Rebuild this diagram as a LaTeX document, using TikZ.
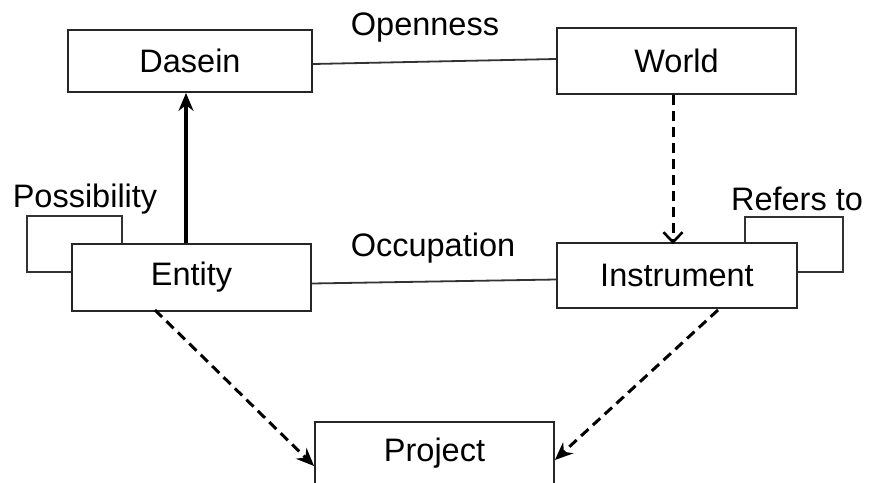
\documentclass[tikz,border=0pt]{standalone}
\usepackage{fontspec}
\setmainfont{Liberation Sans}
\usetikzlibrary{arrows.meta}
\begin{document}
\begin{tikzpicture}[x=1pt,y=-1pt,
  box/.style={draw=black!85,line width=1.8pt,inner sep=0pt,font=\fontsize{32.5}{38}\selectfont},
  lbl/.style={inner sep=0pt,font=\fontsize{32.5}{38}\selectfont},
  thinline/.style={line width=1.8pt,draw=black!80},
  dashline/.style={line width=3pt,dash pattern=on 10pt off 6pt},
  filltip/.style={-{Stealth[length=18pt,width=15pt]}},
  opentip/.style={-{Straight Barb[length=10pt,width=19pt,line width=2.6pt]}}]
\useasboundingbox (0,0) rectangle (872,482);
\node[box,minimum width=244pt,minimum height=62pt] (dasein) at (190,61) {Dasein};
\node[box,minimum width=239pt,minimum height=66pt] (world) at (676.5,61) {World};
\node[box,minimum width=239pt,minimum height=67pt] (entity) at (191.5,277.5) {Entity};
\node[box,minimum width=240pt,minimum height=65pt] (instr) at (677,275.5) {Instrument};
\node[box,minimum width=239pt,minimum height=62pt] (project) at (434.5,453) {Project};
\node[lbl] (open) at (425,28) {Openness};
\node[lbl] (occ) at (433,248) {Occupation};
\node[lbl] (poss) at (85,199) {Possibility};
\node[lbl] (ref) at (797,199) {Refers to};
% plain lines
\draw[thinline] ([yshift=-3pt]dasein.east) -- ([yshift=2pt]world.west);
\draw[thinline] ([yshift=-6pt]entity.east) -- ([yshift=-4pt]instr.west);
% self loops
\draw[thinline] (entity.west |- 0,272) -| (27,216) -| (entity.north -| 122,0);
\draw[thinline] (instr.north -| 745,0) |- (843,217) |- (instr.east |- 0,272);
% arrows
\draw[line width=3.2pt,filltip] (entity.north -| 186,0) -- (dasein.south -| 186,0);
\draw[dashline,opentip] (world.south -| 673,0) -- ([yshift=-2pt]instr.north -| 673,0);
\coordinate (e1) at (155,310);
\coordinate (i1) at (718,310);
\draw[dashline,filltip] (e1) -- ([yshift=-13pt]project.west);
\draw[dashline,filltip] (i1) -- ([yshift=-7pt]project.east);
\end{tikzpicture}
\end{document}
